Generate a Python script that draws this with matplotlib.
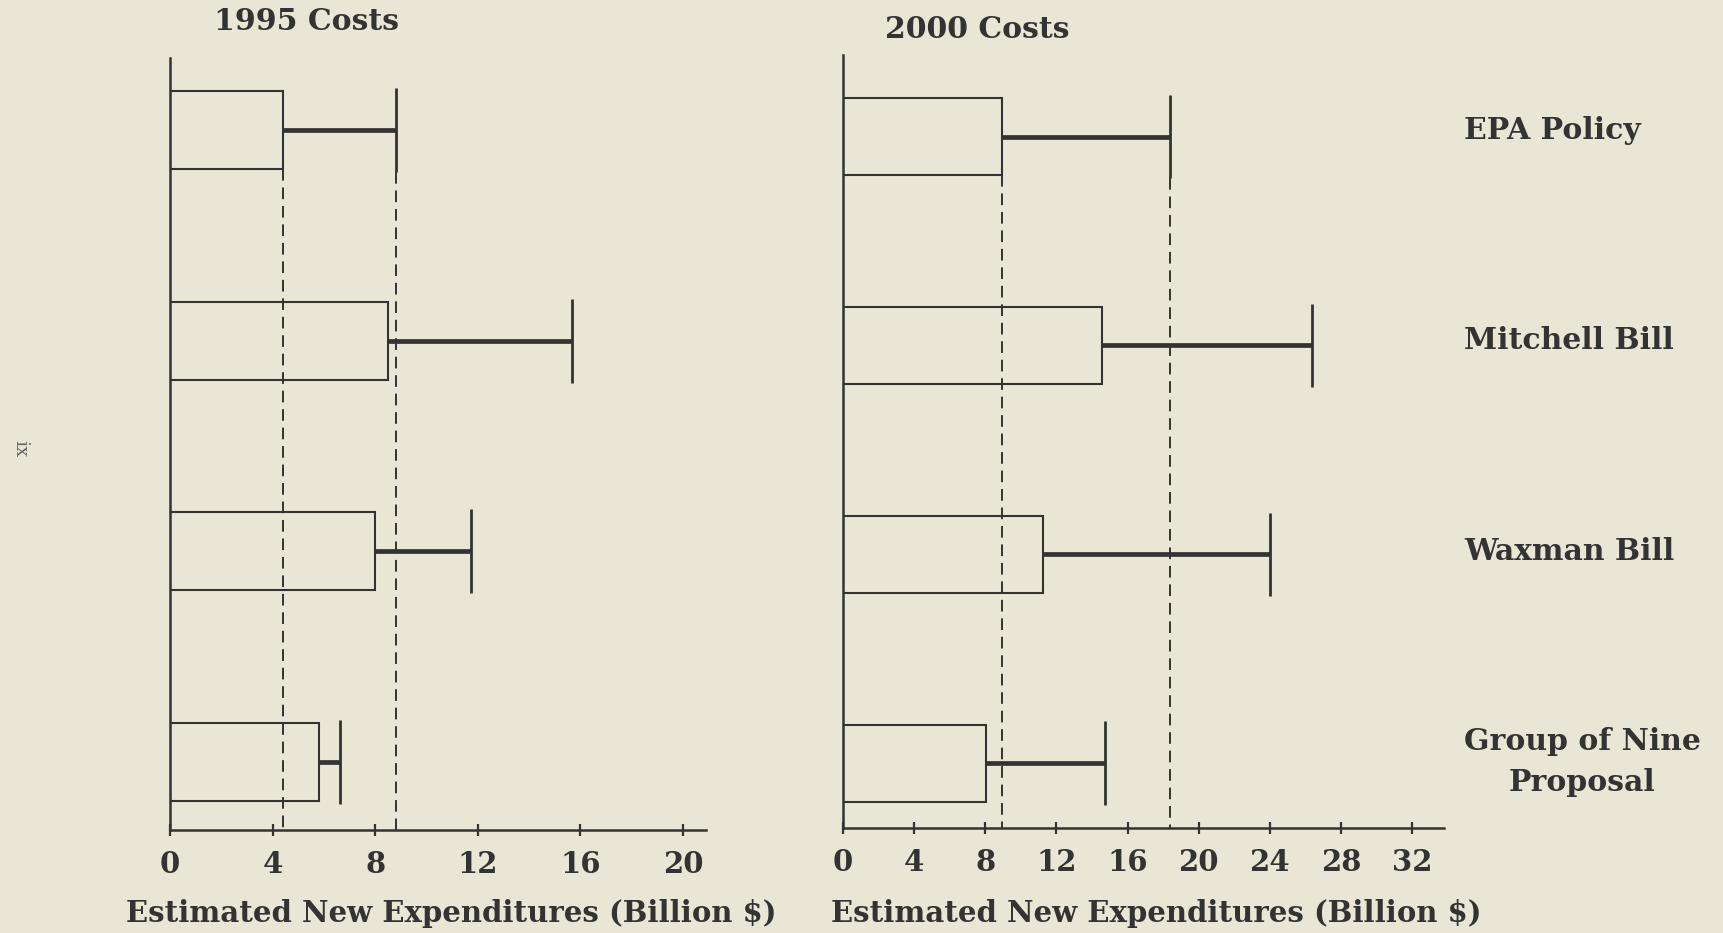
import matplotlib.pyplot as plt
import matplotlib.transforms as mtransforms

# data (billion $)
policies = ["EPA Policy", "Mitchell Bill", "Waxman Bill", "Group of Nine\nProposal"]
low_1995 = [4.39, 8.49, 8.0, 5.81]
high_1995 = [8.82, 15.68, 11.74, 6.62]
low_2000 = [8.95, 14.58, 11.24, 8.06]
high_2000 = [18.38, 26.4, 24.0, 14.73]
ticks_1995 = [0, 4, 8, 12, 16, 20]
ticks_2000 = [0, 4, 8, 12, 16, 20, 24, 28, 32]

paper = "#e9e6d6"
ink = "#333333"

plt.rcParams["font.family"] = "DejaVu Serif"
plt.rcParams["font.weight"] = "bold"

fig = plt.figure(figsize=(17.24, 9.33), dpi=100, facecolor=paper)
ax1 = fig.add_axes([0.0986, 0.1104, 0.3109, 0.8274])
ax2 = fig.add_axes([0.489, 0.1125, 0.3486, 0.8285])

bar_h = 0.37
cap_h = 0.40


def draw_panel(ax, low, high, xmax, ticks, ylim):
    ax.set_facecolor(paper)
    y = list(range(len(low)))
    ax.barh(y, low, height=bar_h, fill=False, edgecolor=ink, linewidth=1.5)
    ax.hlines(y, low, high, colors=ink, linewidth=3.4)
    ax.vlines(high, [v - cap_h / 2 for v in y], [v + cap_h / 2 for v in y],
              colors=ink, linewidth=2.0)
    # dashed reference lines at the EPA estimate range
    ax.vlines(low[0], y[0] + bar_h / 2, ylim[0], colors=ink,
              linewidth=1.4, linestyles=(0, (6, 3.5)))
    ax.vlines(high[0], y[0] + cap_h / 2, ylim[0], colors=ink,
              linewidth=1.4, linestyles=(0, (6, 3.5)))
    ax.set_xlim(0, xmax)
    ax.set_ylim(*ylim)
    ax.set_yticks([])
    ax.set_xticks(ticks)
    ax.set_xticklabels([str(t) for t in ticks])
    ax.tick_params(axis="x", direction="inout", length=9, width=1.6,
                   colors=ink, labelsize=21, pad=10)
    for s in ["top", "right"]:
        ax.spines[s].set_visible(False)
    for s in ["left", "bottom"]:
        ax.spines[s].set_linewidth(1.8)
        ax.spines[s].set_color(ink)


draw_panel(ax1, low_1995, high_1995, 20.9, ticks_1995, (3.323, -0.342))
draw_panel(ax2, low_2000, high_2000, 33.8, ticks_2000, (3.31, -0.39))

# row labels sit level with the 1995 bars, to the right of the 2000 panel
lab_tr = mtransforms.blended_transform_factory(ax2.transAxes, ax1.transData)
for i, name in enumerate(policies):
    ax2.text(1.033, i, name, transform=lab_tr, ha="left", va="center",
             multialignment="center", fontsize=21.5, color=ink,
             clip_on=False, linespacing=1.5)

fig.text(307 / 1724, 1 - 22 / 933, "1995 Costs", ha="center", va="center",
         fontsize=21.5, color=ink)
fig.text(977 / 1724, 1 - 30 / 933, "2000 Costs", ha="center", va="center",
         fontsize=21.5, color=ink)
fig.text(451 / 1724, 1 - 914 / 933, "Estimated New Expenditures (Billion $)",
         ha="center", va="center", fontsize=21, color=ink)
fig.text(1156 / 1724, 1 - 914 / 933, "Estimated New Expenditures (Billion $)",
         ha="center", va="center", fontsize=21, color=ink)
fig.text(20 / 1724, 1 - 449 / 933, "ix", rotation=-90, ha="center",
         va="center", fontsize=14, fontweight="normal", color="#6a6a6a")

fig.savefig("out.png", dpi=100, facecolor=paper)
